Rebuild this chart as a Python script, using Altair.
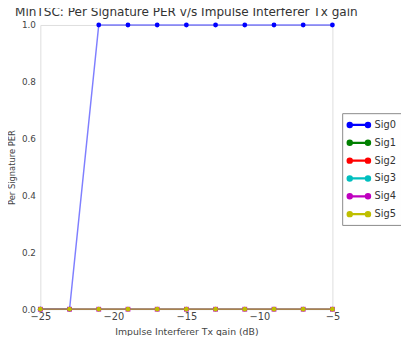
import altair as alt
import pandas as pd

# ---- data ----
x_gain = [-25, -23, -21, -19, -17, -15, -13, -11, -9, -7, -5]
sig0 = [0, 0, 1, 1, 1, 1, 1, 1, 1, 1, 1]
sig1 = [0, 0, 0, 0, 0, 0, 0, 0, 0, 0, 0]
sig2 = [0, 0, 0, 0, 0, 0, 0, 0, 0, 0, 0]
sig3 = [0, 0, 0, 0, 0, 0, 0, 0, 0, 0, 0]
sig4 = [0, 0, 0, 0, 0, 0, 0, 0, 0, 0, 0]
sig5 = [0, 0, 0, 0, 0, 0, 0, 0, 0, 0, 0]

series_names = ["Sig0", "Sig1", "Sig2", "Sig3", "Sig4", "Sig5"]
series_values = [sig0, sig1, sig2, sig3, sig4, sig5]
series_colors = ["#0000ff", "#008000", "#ff0000", "#00bfbf", "#bf00bf", "#bfbf00"]
x_ticks = [-25, -20, -15, -10, -5]
y_ticks = [0.0, 0.2, 0.4, 0.6, 0.8, 1.0]

# plot marker shapes (matplotlib-like: o, x, ., D, s, o)
plot_shapes = [
    "circle",
    "M-1,-1L1,1M-1,1L1,-1",
    "M-0.5,0A0.5,0.5 0 1,0 0.5,0A0.5,0.5 0 1,0 -0.5,0",
    "diamond",
    "square",
    "circle",
]

def circ(cx, r):
    return f"M{cx-r},0A{r},{r} 0 1,0 {cx+r},0A{r},{r} 0 1,0 {cx-r},0"

# legend symbol: short line with a marker at each end (all filled areas)
L = 1.55
legend_symbol = (
    f"M{-L},-0.07H{L}V0.07H{-L}Z" + circ(-L, 0.42) + circ(L, 0.42)
)

rows = []
for name, vals in zip(series_names, series_values):
    for xv, yv in zip(x_gain, vals):
        rows.append({"series": name, "gain": xv, "per": yv})
df = pd.DataFrame(rows)

FONT = "DejaVu Sans"

x_enc = alt.X(
    "gain:Q",
    scale=alt.Scale(domain=[-25, -5], nice=False),
    axis=alt.Axis(
        values=x_ticks, title="Impulse Interferer Tx gain (dB)", grid=False,
        ticks=False, domain=False, labelPadding=3, labelFontSize=10,
        titleFontSize=9.5, titleFontWeight="normal", titlePadding=5,
        labelColor="#444", titleColor="#444", labelFlush=False,
    ),
)
y_enc = alt.Y(
    "per:Q",
    scale=alt.Scale(domain=[0, 1], nice=False),
    axis=alt.Axis(
        values=y_ticks, format=".1f", title="Per Signature PER", grid=False,
        ticks=False, domain=False, labelPadding=5, labelFontSize=9,
        titleFontSize=8.5, titleFontWeight="normal", titlePadding=5,
        labelColor="#444", titleColor="#444",
    ),
)

color_scale = alt.Scale(domain=series_names, range=series_colors)

leg = alt.Legend(
    title=None, orient="none", legendX=308, legendY=90,
    symbolType=legend_symbol, symbolSize=144, symbolOpacity=1,
    labelFontSize=10, labelFont=FONT, labelColor="#333",
    strokeColor="#888", fillColor="white", padding=5,
    rowPadding=5.2, symbolOffset=5, labelOffset=9, cornerRadius=0,
)
color_enc = alt.Color("series:N", scale=color_scale, legend=leg)

# first (empty) layer defines the legend symbol style: filled points
legend_layer = alt.Chart(df).transform_filter(alt.datum.per > 10).mark_point(
    filled=True, opacity=1
).encode(x=x_enc, y=y_enc, color=color_enc)

lines = alt.Chart(df).mark_line(strokeWidth=1.5, opacity=0.5).encode(
    x=x_enc, y=y_enc, color=color_enc, detail="series:N",
)

point_layers = []
for name, col, shp in zip(series_names, series_colors, plot_shapes):
    point_layers.append(
        alt.Chart(df).transform_filter(alt.datum.series == name)
        .mark_point(filled=True, size=24, opacity=1, shape=shp, color=col)
        .encode(x=x_enc, y=y_enc)
    )

chart = alt.layer(legend_layer, lines, *point_layers).properties(
    width=298, height=290,
    title=alt.Title(
        "MinTSC: Per Signature PER v/s  Impulse Interferer Tx gain",
        fontSize=12.3, font=FONT, fontWeight="normal", color="#333",
        offset=3, anchor="middle",
    ),
    autosize=alt.AutoSizeParams(type="none"),
    padding={"left": 33, "top": 14, "right": 70, "bottom": 24},
).configure_view(
    stroke="#888", strokeWidth=2,
).configure(
    font=FONT,
)

chart.save("out.html", embed_options={"renderer": "svg", "actions": False})
